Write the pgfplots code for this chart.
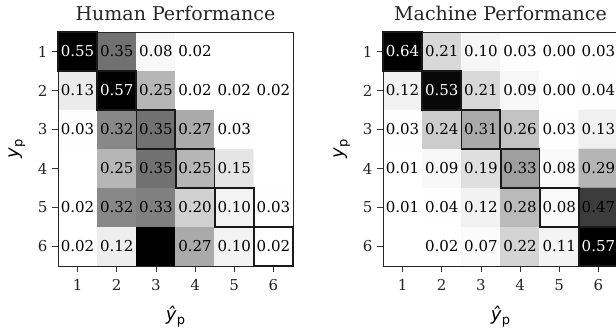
\documentclass[border=0pt]{standalone}
\usepackage{fontspec}
\setmainfont{DejaVu Serif}
\newfontfamily\dvsans{DejaVu Sans}
\usepackage{pgfplots}
\usepackage{pgfplotstable}
\pgfplotsset{compat=1.18}

% Human performance matrix (rows y_p, cols yhat_p)
\pgfplotstableread{
x y v
1 1 0.55
2 1 0.35
3 1 0.08
4 1 0.02
5 1 0
6 1 0
1 2 0.13
2 2 0.57
3 2 0.25
4 2 0.02
5 2 0.02
6 2 0.02
1 3 0.03
2 3 0.32
3 3 0.35
4 3 0.27
5 3 0.03
6 3 0
1 4 0
2 4 0.25
3 4 0.35
4 4 0.25
5 4 0.15
6 4 0
1 5 0.02
2 5 0.32
3 5 0.33
4 5 0.20
5 5 0.10
6 5 0.03
1 6 0.02
2 6 0.12
3 6 0.47
4 6 0.27
5 6 0.10
6 6 0.02
}\humanM

\pgfplotstableread{
x y v
2 1 0.35
3 1 0.08
4 1 0.02
1 2 0.13
3 2 0.25
4 2 0.02
5 2 0.02
6 2 0.02
1 3 0.03
2 3 0.32
3 3 0.35
4 3 0.27
5 3 0.03
2 4 0.25
3 4 0.35
4 4 0.25
5 4 0.15
1 5 0.02
2 5 0.32
3 5 0.33
4 5 0.20
5 5 0.10
6 5 0.03
1 6 0.02
2 6 0.12
3 6 0.47
4 6 0.27
5 6 0.10
6 6 0.02
}\humanB

\pgfplotstableread{
x y v
1 1 0.55
2 2 0.57
}\humanW

% Machine performance matrix
\pgfplotstableread{
x y v
1 1 0.64
2 1 0.21
3 1 0.10
4 1 0.03
5 1 0.00
6 1 0.03
1 2 0.12
2 2 0.53
3 2 0.21
4 2 0.09
5 2 0.00
6 2 0.04
1 3 0.03
2 3 0.24
3 3 0.31
4 3 0.26
5 3 0.03
6 3 0.13
1 4 0.01
2 4 0.09
3 4 0.19
4 4 0.33
5 4 0.08
6 4 0.29
1 5 0.01
2 5 0.04
3 5 0.12
4 5 0.28
5 5 0.08
6 5 0.47
1 6 0
2 6 0.02
3 6 0.07
4 6 0.22
5 6 0.11
6 6 0.57
}\machineM

\pgfplotstableread{
x y v
2 1 0.21
3 1 0.10
4 1 0.03
5 1 0.00
6 1 0.03
1 2 0.12
3 2 0.21
4 2 0.09
5 2 0.00
6 2 0.04
1 3 0.03
2 3 0.24
3 3 0.31
4 3 0.26
5 3 0.03
6 3 0.13
1 4 0.01
2 4 0.09
3 4 0.19
4 4 0.33
5 4 0.08
6 4 0.29
1 5 0.01
2 5 0.04
3 5 0.12
4 5 0.28
5 5 0.08
6 5 0.47
2 6 0.02
3 6 0.07
4 6 0.22
5 6 0.11
}\machineB

\pgfplotstableread{
x y v
1 1 0.64
2 2 0.53
6 6 0.57
}\machineW

% diagonal cells to outline
\pgfplotstableread{
x y
1 1
2 2
3 3
4 4
5 5
6 6
}\diagcells

\pgfplotsset{
  cm/.style={
    scale only axis, width=235pt, height=234pt,
    anchor=south west,
    axis on top,
    xmin=0.5, xmax=6.5, ymin=0.5, ymax=6.5,
    y dir=reverse,
    xtick={1,2,3,4,5,6}, ytick={1,2,3,4,5,6},
    tick align=outside, tick pos=left,
    major tick length=6pt,
    tick style={black!80, line width=0.8pt},
    axis line style={black!85, line width=0.8pt},
    /pgf/number format/assume math mode=true,
    every tick label/.append style={font=\fontsize{15}{17}\selectfont, text=black!85},
    xticklabel style={yshift=-4pt},
    yticklabel style={xshift=-1pt},
    colormap={bw}{gray(0cm)=(1); gray(1cm)=(0)},
    point meta min=0, point meta max=1,
    title style={font=\fontsize{19}{22}\selectfont, text=black!85, anchor=base, yshift=5pt},
    xlabel={\dvsans\fontsize{18}{20}\selectfont\itshape ŷ\kern0.3pt\raisebox{-0.4ex}{\upshape\fontsize{13}{14}\selectfont p}},
    ylabel={\dvsans\fontsize{18}{20}\selectfont\itshape y\kern0.3pt\raisebox{-0.4ex}{\upshape\fontsize{13}{14}\selectfont p}},
    xlabel style={yshift=-8pt},
    ylabel style={yshift=6pt},
    clip=true,
  },
  lbl/.style={only marks, mark=none, point meta=explicit symbolic,
    nodes near coords,
    every node near coord/.append style={anchor=center, font=\fontsize{15}{17}\selectfont, text=#1, inner sep=0pt}},
  boxes/.style={only marks, mark=square, mark size=19.4pt, mark options={line width=1.8pt, black!90}},
}

\begin{document}
\begin{tikzpicture}
\useasboundingbox (0,0) rectangle (616pt,331pt);

\begin{axis}[cm, at={(58pt,65pt)}, title={Human Performance}]
  \addplot[matrix plot*, mesh/cols=6, point meta={min(1,(\thisrow{v}/0.47)^2)}] table[x=x,y=y] {\humanM};
  \addplot[lbl=black] table[x=x,y=y,meta=v] {\humanB};
  \addplot[lbl=white] table[x=x,y=y,meta=v] {\humanW};
  \addplot[boxes] table[x=x,y=y] {\diagcells};
\end{axis}

\begin{axis}[cm, at={(383pt,65pt)}, title={Machine Performance}]
  \addplot[matrix plot*, mesh/cols=6, point meta={min(1,(\thisrow{v}/0.54)^2)}] table[x=x,y=y] {\machineM};
  \addplot[lbl=black] table[x=x,y=y,meta=v] {\machineB};
  \addplot[lbl=white] table[x=x,y=y,meta=v] {\machineW};
  \addplot[boxes] table[x=x,y=y] {\diagcells};
\end{axis}
\end{tikzpicture}
\end{document}
